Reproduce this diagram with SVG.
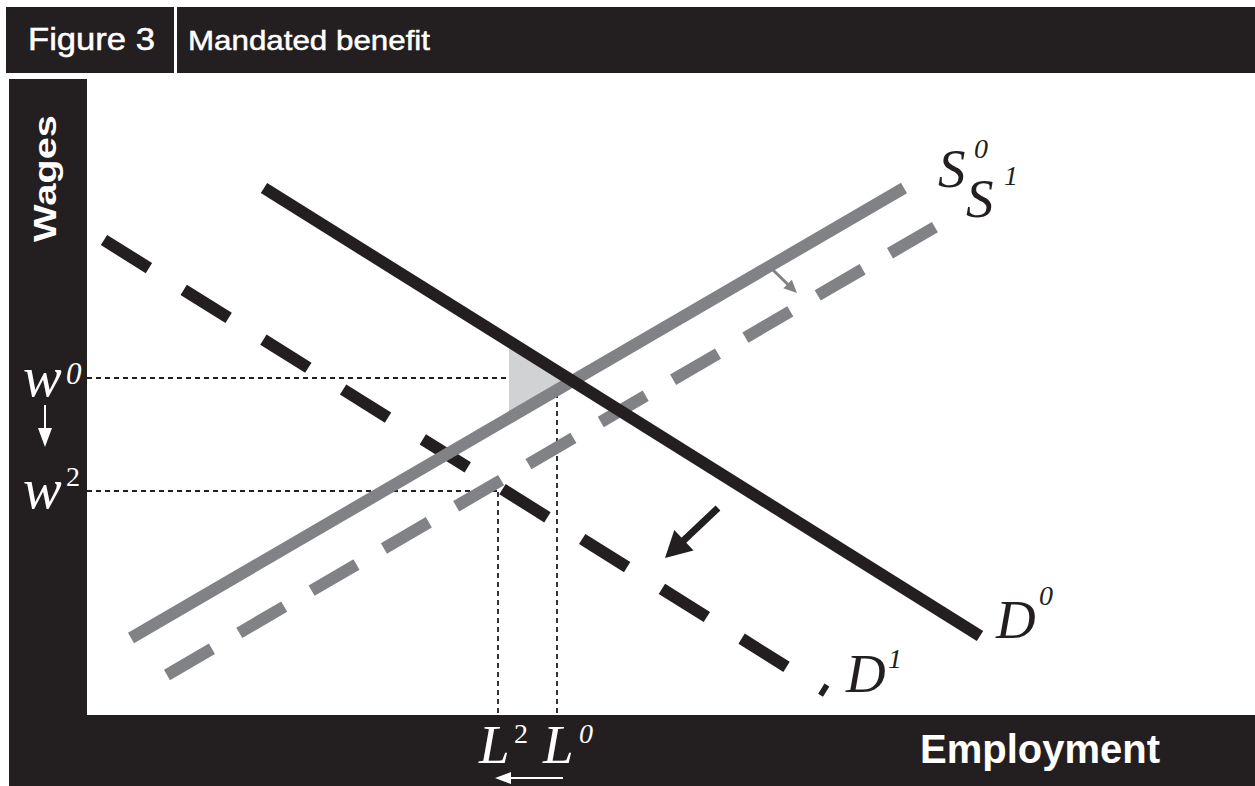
<svg xmlns="http://www.w3.org/2000/svg" width="1255" height="786" viewBox="0 0 1255 786">
<style>
.frame{fill:#231f20}
.hdr{font-family:"Liberation Sans",Arial,sans-serif;fill:#ffffff;stroke:#ffffff;stroke-width:0.5}
.ax{font-family:"Liberation Sans",Arial,sans-serif;font-weight:bold;fill:#ffffff}
.lbl{font-family:"Liberation Serif","Times New Roman",serif;font-style:italic}
.guide{stroke:#231f20;stroke-width:1.8;stroke-dasharray:5 4;fill:none}
.curve{fill:none;stroke-width:12;stroke-linecap:butt}
</style>
<rect width="1255" height="786" fill="#ffffff"/>
<g id="header">
<rect class="frame" x="6" y="7" width="168" height="66"/>
<rect class="frame" x="177" y="7" width="1078" height="66"/>
<text class="hdr" x="28" y="50" font-size="32" textLength="127" lengthAdjust="spacingAndGlyphs">Figure 3</text>
<text class="hdr" x="188" y="50" font-size="28" textLength="242" lengthAdjust="spacingAndGlyphs">Mandated benefit</text>
</g>
<g id="axes">
<rect class="frame" x="9" y="79" width="78" height="707"/>
<rect class="frame" x="9" y="715" width="1246" height="71"/>
<text class="ax" transform="translate(56,242) rotate(-90)" x="0" y="0" font-size="31" textLength="127" lengthAdjust="spacingAndGlyphs">Wages</text>
<text class="ax" x="920" y="763" font-size="41" textLength="240" lengthAdjust="spacingAndGlyphs">Employment</text>
</g>
<g id="surplus">
<polygon points="509,341 509,417 571,380" fill="#d1d2d4"/>
</g>
<g id="guides">
<line class="guide" x1="87" y1="378" x2="508" y2="378"/>
<line class="guide" x1="87" y1="491" x2="497" y2="491"/>
<line class="guide" x1="498" y1="492" x2="498" y2="714"/>
<line class="guide" x1="557" y1="384" x2="557" y2="714"/>
</g>
<g id="curves">
<line id="S1" class="curve" x1="167" y1="675" x2="935" y2="227" stroke="#808285" stroke-dasharray="52 31.7"/>
<line id="D1" class="curve" x1="104" y1="240" x2="826.2" y2="691.6" stroke="#231f20" stroke-dasharray="53 41"/>
<line id="S0" class="curve" x1="131" y1="638" x2="904" y2="188" stroke="#808285"/>
<line id="D0" class="curve" x1="264" y1="188" x2="980" y2="636" stroke="#231f20"/>
</g>
<g id="connectors">
<line x1="773" y1="270" x2="789" y2="285.5" stroke="#808285" stroke-width="3"/>
<polygon points="797,293 783.4,288.3 791.8,279.7" fill="#808285"/>
<line x1="718" y1="508" x2="682" y2="542" stroke="#231f20" stroke-width="7"/>
<polygon points="665,558 674.3,530 693.5,550.4" fill="#231f20"/>
<line x1="45" y1="405" x2="45" y2="430" stroke="#ffffff" stroke-width="2"/>
<polygon points="38,428 52,428 45,447" fill="#ffffff"/>
<line x1="563" y1="778" x2="509" y2="778" stroke="#ffffff" stroke-width="2"/>
<polygon points="495,778 511,772 511,784" fill="#ffffff"/>
</g>
<g id="labels">
<text class="lbl" x="23" y="396" font-size="58" fill="#ffffff">w</text>
<text class="lbl" x="66" y="384" font-size="31" fill="#ffffff">0</text>
<text class="lbl" x="23" y="508" font-size="58" fill="#ffffff">w</text>
<text x="66" y="486" font-size="28" fill="#ffffff" font-family="Liberation Serif,serif">2</text>
<text class="lbl" x="479" y="763" font-size="55" fill="#ffffff">L</text>
<text x="514" y="743" font-size="28" fill="#ffffff" font-family="Liberation Serif,serif">2</text>
<text class="lbl" x="543" y="763" font-size="55" fill="#ffffff">L</text>
<text class="lbl" x="579" y="743" font-size="28" fill="#ffffff">0</text>
<text class="lbl" x="938" y="187" font-size="55" fill="#231f20">S</text>
<text class="lbl" x="974" y="158" font-size="28" fill="#231f20">0</text>
<text class="lbl" x="966" y="217" font-size="55" fill="#231f20">S</text>
<text class="lbl" x="1004" y="185" font-size="28" fill="#231f20">1</text>
<text class="lbl" x="996" y="638" font-size="55" fill="#231f20">D</text>
<text class="lbl" x="1039" y="605" font-size="28" fill="#231f20">0</text>
<text class="lbl" x="846" y="692" font-size="55" fill="#231f20">D</text>
<text class="lbl" x="888" y="668" font-size="28" fill="#231f20">1</text>
</g>
</svg>
